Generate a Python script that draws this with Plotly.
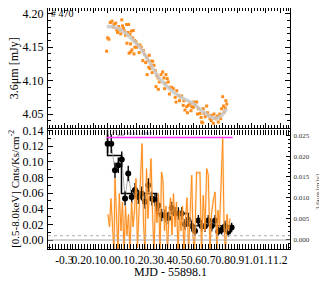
import plotly.graph_objects as go

# ---------------- data ----------------
# top panel: 3.6 micron light curve (orange squares)
ir_t = [-0.006, 0.001, 0.010, 0.019, 0.031, 0.045, 0.057, 0.064, 0.078, 0.087, 0.099, 0.110, 0.119,
        0.133, 0.135, 0.147, 0.142, 0.156, 0.165, 0.179, 0.175, 0.189, 0.150, 0.161, 0.170, 0.184,
        0.198, 0.203, 0.212, 0.226, 0.249, 0.258, 0.272, 0.281, 0.290, 0.300, 0.314, 0.307, 0.286,
        0.275, 0.323, 0.332, 0.342, 0.351, 0.337, 0.353, 0.372, 0.383, 0.392, 0.406, 0.415, 0.422,
        0.397, 0.434, 0.446, 0.457, 0.481, 0.492, 0.503, 0.515, 0.476, 0.526, 0.538, 0.550, 0.561,
        0.573, 0.585, 0.596, 0.608, 0.619, 0.631, 0.642, 0.654, 0.661, 0.670, 0.679, 0.689, 0.700,
        0.712, 0.724, 0.735, 0.747, 0.758, 0.769, 0.776, 0.786, 0.793, 0.800, 0.811, 0.818, 0.828,
        0.040, 0.070, 0.092, 0.105, 0.125, 0.160, 0.190, 0.220, 0.235, 0.245, 0.265, 0.295, 0.310,
        0.360, 0.400, 0.430, 0.470, 0.500, 0.530, 0.555, 0.580, 0.600, 0.625, 0.650, 0.665, 0.695,
        0.720, 0.740, 0.765, 0.780, 0.805, 0.822]
ir_f = [4.144, 4.164, 4.162, 4.187, 4.189, 4.184, 4.186, 4.176, 4.181, 4.176, 4.191, 4.178, 4.174,
        4.184, 4.156, 4.184, 4.172, 4.169, 4.174, 4.175, 4.164, 4.160, 4.141, 4.143, 4.146, 4.140,
        4.158, 4.150, 4.154, 4.153, 4.145, 4.139, 4.135, 4.130, 4.138, 4.129, 4.129, 4.123, 4.120,
        4.109, 4.123, 4.115, 4.108, 4.104, 4.091, 4.087, 4.109, 4.113, 4.104, 4.109, 4.103, 4.098,
        4.088, 4.090, 4.090, 4.088, 4.085, 4.078, 4.076, 4.077, 4.068, 4.063, 4.056, 4.061, 4.063,
        4.066, 4.061, 4.060, 4.063, 4.068, 4.058, 4.051, 4.038, 4.037, 4.051, 4.046, 4.062, 4.048,
        4.043, 4.048, 4.036, 4.043, 4.045, 4.038, 4.046, 4.043, 4.058, 4.076, 4.053, 4.059, 4.065,
        4.180, 4.172, 4.170, 4.182, 4.168, 4.155, 4.150, 4.142, 4.150, 4.130, 4.127, 4.118, 4.112,
        4.098, 4.096, 4.080, 4.075, 4.070, 4.070, 4.052, 4.055, 4.068, 4.050, 4.045, 4.058, 4.052,
        4.040, 4.050, 4.047, 4.050, 4.062, 4.070]

# top panel: smooth model (grey)
fit_t = [-0.005, 0.03, 0.07, 0.10, 0.133, 0.179, 0.226, 0.29, 0.353, 0.40, 0.457, 0.52, 0.596,
         0.65, 0.712, 0.758, 0.793, 0.828]
fit_f = [4.181, 4.181, 4.179, 4.175, 4.170, 4.160, 4.150, 4.128, 4.105, 4.094, 4.083, 4.074, 4.066,
         4.056, 4.046, 4.043, 4.048, 4.058]

# bottom panel: X-ray count rate
xr_t = [0.001, 0.026, 0.052, 0.075, 0.099, 0.122, 0.144, 0.168, 0.191, 0.214, 0.238, 0.260, 0.283,
        0.307, 0.330, 0.353, 0.376, 0.399, 0.422, 0.446, 0.469, 0.492, 0.515, 0.538, 0.561, 0.585,
        0.608, 0.631, 0.654, 0.677, 0.700, 0.724, 0.747, 0.769, 0.793, 0.816, 0.839, 0.862]
xr_r = [0.123, 0.123, 0.089, 0.0955, 0.103, 0.053, 0.085, 0.055, 0.064, 0.055, 0.0595, 0.049, 0.070,
        0.053, 0.051, 0.044, 0.032, 0.031, 0.028, 0.041, 0.034, 0.034, 0.034, 0.020, 0.026, 0.018,
        0.0115, 0.025, 0.018, 0.0175, 0.025, 0.018, 0.025, 0.011, 0.013, 0.0175, 0.0106, 0.016]
xr_e = [0.012, 0.012, 0.010, 0.010, 0.010, 0.009, 0.010, 0.009, 0.009, 0.009, 0.009, 0.009, 0.009,
        0.009, 0.008, 0.008, 0.008, 0.008, 0.008, 0.008, 0.008, 0.008, 0.008, 0.007, 0.007, 0.007,
        0.006, 0.007, 0.007, 0.007, 0.007, 0.007, 0.007, 0.006, 0.006, 0.007, 0.006, 0.006]

# Bayesian blocks
blk_edges = [0.0, 0.097, 0.342, 0.561, 0.862]
blk_levels = [0.108, 0.0595, 0.034, 0.0182]
blk_top = 0.1413

# bottom panel: 3.6 micron variation (right axis)
dif_t = [0.003, 0.014, 0.024, 0.035, 0.045, 0.052, 0.063, 0.073, 0.082, 0.094, 0.104, 0.115, 0.125,
         0.135, 0.146, 0.156, 0.167, 0.177, 0.188, 0.198, 0.208, 0.219, 0.229, 0.240, 0.250, 0.260,
         0.271, 0.281, 0.292, 0.302, 0.313, 0.323, 0.333, 0.344, 0.354, 0.365, 0.375, 0.385, 0.396,
         0.406, 0.417, 0.427, 0.438, 0.448, 0.458, 0.469, 0.479, 0.490, 0.500, 0.510, 0.521, 0.531,
         0.542, 0.552, 0.563, 0.573, 0.585, 0.594, 0.604, 0.619, 0.631, 0.642, 0.653, 0.665, 0.677,
         0.689, 0.700, 0.712, 0.722, 0.733, 0.747, 0.760, 0.767, 0.778, 0.788, 0.800, 0.809, 0.819,
         0.830, 0.840, 0.851]
dif_f = [0.006, 0.003, 0.0098, 0.002, -0.003, 0.0146, 0.004, -0.003, 0.011, 0.002, 0.009, -0.003, 0.008,
         0.001, 0.006, -0.003, 0.009, 0.003, 0.007, 0.0146, -0.002, 0.006, 0.012, 0.023, 0.004, -0.003,
         0.017, 0.005, 0.012, 0.0194, 0.006, -0.003, 0.009, 0.004, 0.011, -0.003, 0.0162, 0.0142, 0.002,
         0.008, -0.003, 0.006, 0.010, 0.001, 0.011, 0.003, 0.009, -0.003, 0.007, 0.002, 0.008, -0.003,
         0.005, 0.010, -0.003, 0.004, 0.0154, 0.001, -0.003, 0.0162, 0.0159, 0.0162, -0.003, 0.0106, 0.002,
         0.017, 0.0154, -0.003, 0.006, 0.009, 0.0114, -0.003, 0.007, 0.003, 0.012, 0.0242, 0.004, -0.003,
         0.006, 0.002, 0.005]

peak_level = 0.131
peak_span = [-0.006, 0.869]
dotted_level = 0.00086  # right axis

x_ticks = [-0.3, -0.2, -0.1, 0.0, 0.1, 0.2, 0.3, 0.4, 0.5, 0.6, 0.7, 0.8, 0.9, 1.0, 1.1, 1.2]
x_ticktext = ["-0.3", "0.2", "0.1", "0.0", "0.1", "0.2", "0.3", "0.4", "0.5", "0.6", "0.7", "0.8",
              "0.9", "1.0", "1.1", "1.2"]
top_ticks = [4.05, 4.10, 4.15, 4.20]
left_ticks = [0.00, 0.02, 0.04, 0.06, 0.08, 0.10, 0.12, 0.14]
right_ticks = [0.000, 0.005, 0.010, 0.015, 0.020, 0.025]

# ---------------- figure ----------------
FONT = "Liberation Serif"
ORANGE = "#ff8c1a"

fig = go.Figure()

# top panel
fig.add_trace(go.Scatter(x=ir_t, y=ir_f, mode="markers",
                         marker=dict(symbol="square", size=3, color=ORANGE),
                         xaxis="x2", yaxis="y"))
fig.add_trace(go.Scatter(x=fit_t, y=fit_f, mode="lines",
                         line=dict(color="rgba(200,200,200,0.85)", width=3.5),
                         xaxis="x2", yaxis="y", hoverinfo="skip"))

# bottom panel: orange variation on right axis
fig.add_trace(go.Scatter(x=dif_t, y=dif_f, mode="lines",
                         line=dict(color="rgba(255,190,120,0.4)", width=2.2),
                         xaxis="x", yaxis="y3", hoverinfo="skip"))
fig.add_trace(go.Scatter(x=dif_t, y=dif_f, mode="lines", line=dict(color=ORANGE, width=1.0),
                         xaxis="x", yaxis="y3"))

# bayesian blocks step line
bx, by = [blk_edges[0]], [blk_top]
for i, lev in enumerate(blk_levels):
    bx += [blk_edges[i], blk_edges[i + 1]]
    by += [lev, lev]
fig.add_trace(go.Scatter(x=bx, y=by, mode="lines", line=dict(color="black", width=1.5),
                         xaxis="x", yaxis="y2"))

# grey connecting line + X-ray points
fig.add_trace(go.Scatter(x=xr_t, y=xr_r, mode="lines", line=dict(color="#999999", width=0.8),
                         xaxis="x", yaxis="y2"))
fig.add_trace(go.Scatter(x=xr_t, y=xr_r, mode="markers",
                         marker=dict(symbol="circle", size=6, color="black"),
                         error_y=dict(type="data", array=xr_e, color="black", thickness=1.4, width=0),
                         xaxis="x", yaxis="y2"))

# magenta peak line
fig.add_trace(go.Scatter(x=peak_span, y=[peak_level, peak_level], mode="lines",
                         line=dict(color="#ff33ff", width=1.3), xaxis="x", yaxis="y2"))


def ax(fontsize=12, **kw):
    d = dict(showgrid=False, zeroline=False, showline=True, linecolor="black", linewidth=1.2,
             ticks="inside", tickcolor="black", ticklen=5, tickwidth=1, automargin=False,
             tickangle=0, tickfont=dict(family=FONT, size=fontsize, color="black"))
    d.update(kw)
    return d


# the page body adds an 8px offset, so the figure is sized to fill the rest of the window
fig.update_layout(
    width=319, height=276,
    margin=dict(l=40, r=37, t=0, b=35),
    paper_bgcolor="white", plot_bgcolor="white",
    showlegend=False,
    xaxis=ax(11.5, domain=[0, 1], anchor="y2", range=[-0.4132, 1.2674],
             tickvals=x_ticks, ticktext=x_ticktext, mirror="allticks",
             minor=dict(dtick=0.02, ticks="inside", ticklen=2.5, tickcolor="black")),
    xaxis2=ax(11.5, domain=[0, 1], anchor="y", matches="x", tickvals=x_ticks,
              showticklabels=False, mirror="allticks",
              minor=dict(dtick=0.02, ticks="inside", ticklen=2.5, tickcolor="black")),
    yaxis=ax(12, domain=[0.502, 1], anchor="x2", range=[4.0291, 4.2087],
             tickvals=top_ticks, tickformat=".2f", mirror="allticks", ticklabelstandoff=1,
             minor=dict(dtick=0.01, ticks="inside", ticklen=2.5, tickcolor="black")),
    yaxis2=ax(12, domain=[0, 0.496], anchor="x", range=[-0.0115, 0.1413],
              tickvals=left_ticks, tickformat=".2f", ticklabelstandoff=1,
              minor=dict(dtick=0.01, ticks="inside", ticklen=2.5, tickcolor="black")),
    yaxis3=ax(7, overlaying="y2", side="right", anchor="x", range=[-0.00232, 0.0264],
              tickvals=right_ticks, tickformat=".3f", ticklen=4, ticklabelstandoff=1,
              tickfont=dict(family=FONT, size=7, color="#333333"),
              minor=dict(dtick=0.001, ticks="inside", ticklen=2, tickcolor="black")),
)

# reference lines in bottom panel
fig.add_shape(type="line", xref="paper", x0=0, x1=1, yref="y2", y0=0, y1=0,
              line=dict(color="#aaaaaa", width=1.2))
fig.add_shape(type="line", xref="paper", x0=0, x1=1, yref="y3", y0=dotted_level, y1=dotted_level,
              line=dict(color="#aaaaaa", width=1, dash="dot"))

ann = []
ann.append(dict(text="3.6μm [mJy]", x=-0.140, y=0.751, xref="paper", yref="paper", textangle=-90,
                xanchor="center", yanchor="middle",
                showarrow=False, font=dict(family=FONT, size=12, color="black")))
ann.append(dict(text="[0.5-8.0keV] Cnts/Ks/cm<sup>-2</sup>", x=-0.140, y=0.25, xref="paper",
                yref="paper", textangle=-90, showarrow=False, xanchor="center", yanchor="middle",
                font=dict(family=FONT, size=11, color="black")))
ann.append(dict(text="3.6μm [mJy]", x=1.116, y=0.237, xref="paper", yref="paper", textangle=-90,
                xanchor="center", yanchor="middle",
                showarrow=False, font=dict(family=FONT, size=7, color="#444444")))
ann.append(dict(text="MJD - 55898.1", x=0.508, y=-0.094, xref="paper", yref="paper",
                xanchor="center", yanchor="middle",
                showarrow=False, font=dict(family=FONT, size=12, color="black")))
ann.append(dict(text="# 470", x=0.006, y=0.979, xref="paper", yref="paper", xanchor="left",
                yanchor="middle",
                showarrow=False, font=dict(family=FONT, size=10, color="black")))
ann.append(dict(text="F<sup>X</sup><sub>peak</sub>=28.15±0.912", x=0.02, y=0.136, xref="x",
                yref="y2", xanchor="left", yanchor="middle", showarrow=False,
                font=dict(family=FONT, size=5, color="#555555")))
fig.update_layout(annotations=ann)

fig.write_html("out.html")
